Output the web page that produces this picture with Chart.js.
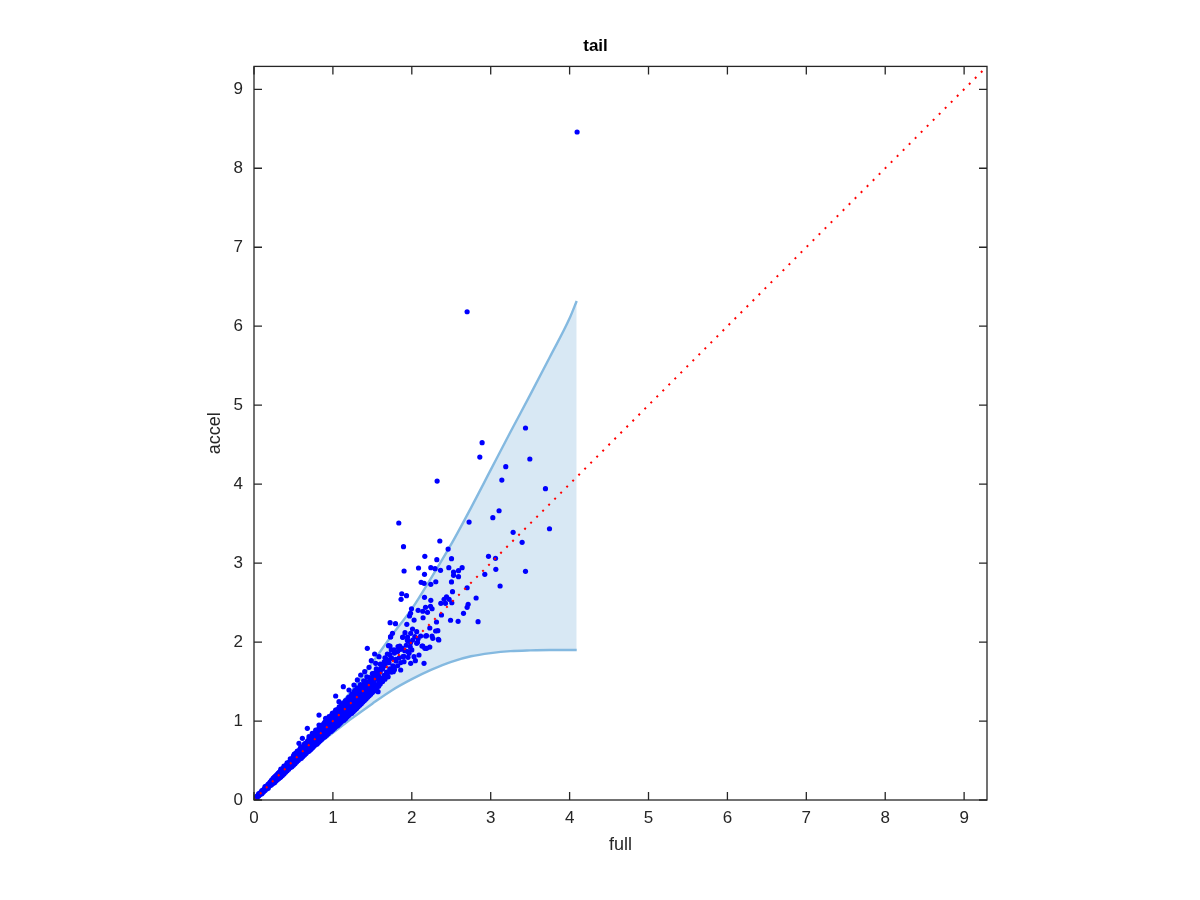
<!DOCTYPE html>
<html><head><meta charset="utf-8">
<script src="https://cdn.jsdelivr.net/npm/chart.js@4"></script>
<style>html,body{margin:0;padding:0;background:#fff}#wrap{width:1200px;height:900px}</style>
</head><body><div id="wrap"><canvas id="c" width="1200" height="900"></canvas></div>
<script>
const chartTitle = 'tail';
const xLabel = 'full';
const yLabel = 'accel';
const axisMax = 9.29;
const tickValues = [0,1,2,3,4,5,6,7,8,9];
const diagFull = [0, 9.29];
const boundFull  = [0, 0.25, 0.5, 0.75, 1.0, 1.25, 1.5, 1.75, 2.0, 2.25, 2.5, 2.75, 3.0, 3.25, 3.5, 3.75, 4.0, 4.09];
const boundUpper = [0, 0.27, 0.54, 0.82, 1.10, 1.40, 1.74, 2.09, 2.42, 2.82, 3.24, 3.70, 4.18, 4.66, 5.13, 5.61, 6.10, 6.32];
const boundLower = [0, 0.23, 0.45, 0.66, 0.85, 1.04, 1.22, 1.39, 1.53, 1.65, 1.75, 1.82, 1.86, 1.885, 1.895, 1.90, 1.90, 1.90];

const bandPoints = [
[0.02,0.02],[0.02,0.03],[0.04,0.03],[0.04,0.05],[0.06,0.05],[0.06,0.07],[0.06,0.08],[0.08,0.07],[0.08,0.09],[0.10,0.08],[0.10,0.11],[0.10,0.12],[0.12,0.10],[0.12,0.13],[0.14,0.12],[0.14,0.15],[0.14,0.17],[0.16,0.14],[0.16,0.18],[0.18,0.15],[0.18,0.17],[0.18,0.20],[0.20,0.18],[0.20,0.22],[0.22,0.19],[0.22,0.21],[0.22,0.25],[0.24,0.21],[0.24,0.24],[0.24,0.27],[0.26,0.22],[0.26,0.26],[0.26,0.29],[0.28,0.24],[0.28,0.28],[0.28,0.31],[0.30,0.26],[0.30,0.30],[0.30,0.33],[0.32,0.28],[0.32,0.31],[0.32,0.35],[0.34,0.29],[0.34,0.33],[0.34,0.37],[0.34,0.39],[0.36,0.31],[0.36,0.35],[0.36,0.39],[0.38,0.33],[0.38,0.37],[0.38,0.41],[0.38,0.43],[0.40,0.35],[0.40,0.39],[0.40,0.43],[0.42,0.37],[0.42,0.41],[0.42,0.45],[0.42,0.47],[0.44,0.39],[0.44,0.42],[0.44,0.47],[0.46,0.41],[0.46,0.44],[0.46,0.49],[0.46,0.52],[0.48,0.42],[0.48,0.46],[0.48,0.51],[0.50,0.44],[0.50,0.48],[0.50,0.53],[0.50,0.56],
[0.52,0.46],[0.52,0.50],[0.52,0.55],[0.54,0.48],[0.54,0.52],[0.54,0.57],[0.54,0.60],[0.56,0.50],[0.56,0.54],[0.56,0.59],[0.58,0.52],[0.58,0.56],[0.58,0.61],[0.58,0.64],[0.60,0.53],[0.60,0.58],[0.60,0.63],[0.60,0.67],[0.62,0.55],[0.62,0.60],[0.62,0.66],[0.64,0.57],[0.64,0.61],[0.64,0.67],[0.64,0.71],[0.66,0.59],[0.66,0.63],[0.66,0.69],[0.68,0.61],[0.68,0.65],[0.68,0.71],[0.68,0.75],[0.70,0.62],[0.70,0.67],[0.70,0.73],[0.70,0.78],[0.72,0.64],[0.72,0.69],[0.72,0.75],[0.74,0.66],[0.74,0.71],[0.74,0.77],[0.74,0.81],[0.76,0.68],[0.76,0.73],[0.76,0.80],[0.78,0.70],[0.78,0.75],[0.78,0.82],[0.78,0.86],[0.80,0.71],[0.80,0.77],[0.80,0.84],[0.82,0.73],[0.82,0.79],[0.82,0.86],[0.82,0.90],[0.84,0.75],[0.84,0.81],[0.84,0.88],[0.86,0.77],[0.86,0.83],[0.86,0.90],[0.86,0.95],[0.88,0.79],[0.88,0.85],[0.88,0.92],[0.90,0.80],[0.90,0.86],[0.90,0.94],[0.90,0.99],[0.92,0.82],[0.92,0.88],[0.92,0.96],[0.94,0.84],[0.94,0.90],[0.94,0.98],[0.94,1.03],[0.96,0.86],[0.96,0.92],[0.96,1.00],[0.98,0.87],[0.98,0.94],[0.98,1.02],[0.98,1.07],
[1.00,0.89],[1.00,0.96],[1.00,1.04],[1.00,1.10],[1.02,0.91],[1.02,0.98],[1.02,1.06],[1.04,0.93],[1.04,1.00],[1.04,1.09],[1.04,1.14],[1.06,0.94],[1.06,1.01],[1.06,1.10],[1.08,0.96],[1.08,1.03],[1.08,1.13],[1.08,1.18],[1.10,0.98],[1.10,1.05],[1.10,1.15],[1.12,1.00],[1.12,1.07],[1.12,1.17],[1.12,1.22],[1.14,1.01],[1.14,1.09],[1.14,1.19],[1.16,1.03],[1.16,1.11],[1.16,1.21],[1.16,1.26],[1.18,1.05],[1.18,1.13],[1.18,1.23],[1.20,1.07],[1.20,1.15],[1.20,1.25],[1.20,1.30],[1.22,1.09],[1.22,1.17],[1.22,1.27],[1.24,1.10],[1.24,1.19],[1.24,1.29],[1.24,1.34],[1.26,1.12],[1.26,1.21],[1.26,1.31],[1.28,1.14],[1.28,1.23],[1.28,1.34],[1.28,1.39],[1.30,1.16],[1.30,1.25],[1.30,1.36],[1.32,1.18],[1.32,1.27],[1.32,1.38],[1.34,1.20],[1.34,1.29],[1.34,1.41],[1.36,1.22],[1.36,1.31],[1.36,1.43],[1.38,1.24],[1.38,1.33],[1.38,1.45],[1.40,1.26],[1.40,1.35],[1.40,1.47],[1.42,1.28],[1.42,1.37],[1.42,1.50],[1.44,1.30],[1.44,1.39],[1.46,1.32],[1.46,1.42],[1.46,1.55],[1.48,1.34],[1.48,1.45],[1.50,1.36],[1.50,1.48],[1.50,1.60],[1.52,1.38],[1.52,1.50],[1.55,1.41],[1.55,1.53],[1.55,1.66],[1.58,1.44],[1.58,1.57],[1.60,1.47],[1.60,1.62],[1.60,1.72],[1.63,1.50],[1.63,1.66],[1.66,1.53],[1.66,1.70],[1.66,1.80],[1.70,1.56],[1.70,1.75],[1.74,1.62],[1.74,1.80],[1.74,1.90],[1.78,1.65],[1.78,1.86],[1.82,1.70],[1.82,1.88]
];

const bandPointsFill = [
[0.05,0.06],[0.09,0.10],[0.11,0.10],[0.13,0.14],[0.15,0.16],[0.17,0.16],[0.19,0.19],[0.21,0.20],[0.21,0.23],[0.23,0.23],[0.25,0.25],[0.25,0.28],[0.27,0.25],[0.27,0.30],[0.29,0.27],[0.29,0.32],[0.31,0.29],[0.31,0.34],[0.33,0.32],[0.33,0.36],[0.35,0.33],[0.35,0.38],[0.37,0.34],[0.37,0.40],[0.39,0.37],[0.39,0.42],[0.41,0.38],[0.41,0.44],[0.43,0.40],[0.43,0.46],[0.45,0.42],[0.45,0.48],[0.47,0.44],[0.47,0.50],[0.49,0.46],[0.49,0.53],[0.51,0.47],[0.51,0.54],[0.51,0.58],[0.53,0.49],[0.53,0.56],[0.55,0.51],[0.55,0.58],[0.55,0.62],[0.57,0.53],[0.57,0.60],[0.59,0.55],[0.59,0.62],[0.59,0.66],[0.61,0.57],[0.61,0.64],[0.63,0.58],[0.63,0.65],[0.63,0.69],[0.65,0.60],[0.65,0.67],[0.67,0.62],[0.67,0.69],[0.67,0.73],[0.69,0.64],[0.69,0.71],[0.71,0.65],[0.71,0.72],[0.71,0.77],[0.73,0.67],[0.73,0.74],[0.75,0.69],[0.75,0.76],[0.75,0.82],[0.77,0.71],[0.77,0.78],[0.79,0.73],[0.79,0.80],[0.79,0.85],[0.81,0.75],[0.81,0.82],[0.83,0.76],[0.83,0.84],[0.83,0.89],[0.85,0.78],[0.85,0.86],[0.87,0.80],[0.87,0.88],[0.87,0.93],[0.89,0.82],[0.89,0.90],[0.91,0.84],[0.91,0.92],[0.91,0.97],[0.93,0.86],[0.93,0.94],[0.95,0.88],[0.95,0.96],[0.95,1.01],[0.97,0.89],[0.97,0.98],[0.99,0.91],[0.99,1.00],[0.99,1.05],
[1.01,0.93],[1.01,1.02],[1.03,0.95],[1.03,1.04],[1.03,1.11],[1.05,0.97],[1.05,1.06],[1.07,0.99],[1.07,1.08],[1.07,1.15],[1.09,1.00],[1.09,1.10],[1.11,1.02],[1.11,1.12],[1.11,1.20],[1.13,1.04],[1.13,1.14],[1.15,1.06],[1.15,1.16],[1.15,1.24],[1.17,1.08],[1.17,1.18],[1.19,1.10],[1.19,1.20],[1.19,1.28],[1.21,1.12],[1.21,1.22],[1.23,1.14],[1.23,1.24],[1.23,1.32],[1.25,1.16],[1.25,1.26],[1.27,1.18],[1.27,1.28],[1.27,1.37],[1.29,1.20],[1.29,1.30],[1.31,1.22],[1.31,1.32],[1.31,1.42],[1.33,1.23],[1.33,1.34],[1.35,1.25],[1.35,1.36],[1.35,1.46],[1.37,1.27],[1.37,1.39],[1.39,1.29],[1.39,1.41],[1.39,1.51],[1.41,1.31],[1.41,1.43],[1.43,1.33],[1.43,1.45],[1.43,1.56],[1.45,1.35],[1.45,1.48],[1.47,1.37],[1.47,1.50],[1.49,1.39],[1.49,1.53],[1.51,1.41],[1.51,1.56],[1.53,1.44],[1.53,1.59],[1.56,1.46],[1.56,1.61],[1.59,1.50],[1.59,1.65],[1.62,1.53],[1.62,1.69],[1.65,1.58],[1.65,1.75],[1.68,1.62],[1.68,1.78],[1.72,1.66],[1.72,1.84],[1.76,1.70],[1.80,1.76],[1.84,1.80],[1.86,1.74],[1.88,1.92],[1.90,1.82],[1.93,1.96],[1.95,1.88],[1.98,1.94],[2.00,1.90]
];

const midPoints = [
[1.914,2.119],[1.986,2.111],[2.062,2.132],[2.112,2.077],[2.176,2.077],[2.256,2.077],[2.302,2.140],[2.336,2.035],[1.884,2.060],[1.943,2.026],[2.011,2.026],[2.062,1.984],[2.129,1.950],[2.188,1.921],[1.825,1.942],[1.859,1.908],[1.910,1.891],[1.965,1.857],[2.028,1.815],[2.091,1.836],[2.155,1.731],[1.901,1.752],[1.986,1.731],[2.045,1.764],[1.952,1.807],[1.888,1.815],[1.732,2.068],[1.724,1.950],[1.774,1.900],[1.690,1.849],[1.741,1.794],[1.796,1.781],[1.711,1.739],[1.660,1.731],[1.627,1.688],[1.597,1.646],[1.563,1.625],[1.521,1.604],[1.774,1.680],[1.859,1.646],[1.766,1.625],[1.690,1.596],[1.605,1.541],[1.542,1.541],[1.479,1.520],[1.436,1.477],[1.394,1.435],[1.458,1.414],[1.521,1.456],[1.572,1.372],[1.352,1.372],[1.436,1.921],[1.529,1.849],[1.584,1.815],[1.487,1.764],[1.542,1.731],[1.458,1.680],[1.403,1.625],[1.352,1.583],[1.310,1.520],[1.267,1.456],[1.331,1.414],[1.132,1.435],[1.204,1.393],[1.246,1.330],[1.289,1.309],[1.373,1.309],[1.310,1.245],[1.225,1.245],[1.162,1.203],[1.098,1.161],[1.035,1.140],[1.035,1.317],[1.077,1.245],[1.141,1.119],[1.056,1.076],[0.993,1.098],[0.951,1.055],[0.908,1.034],[0.972,0.971],[0.887,0.971],[0.824,0.950],[0.824,1.076],[0.845,0.908],[0.782,0.886],[0.739,0.844],[0.697,0.802],[0.676,0.908],[0.760,0.802],[0.718,0.739],[0.655,0.718],[0.634,0.675],[0.591,0.654],[0.549,0.612],[0.613,0.781],[0.570,0.718],[0.528,0.591],[0.507,0.549],[0.465,0.507],[0.422,0.464],[0.486,0.485],[0.444,0.422],[0.401,0.401],[0.380,0.380],[0.359,0.338],[0.338,0.295],[0.317,0.274]
];

const spreadPoints = [
[3.441,4.711],[2.891,4.525],[2.862,4.343],[3.496,4.318],[3.191,4.221],[2.321,4.039],[3.141,4.052],[3.694,3.942],[3.106,3.663],[3.027,3.575],[2.726,3.520],[1.835,3.508],[3.745,3.435],[3.284,3.390],[3.398,3.263],[2.355,3.280],[1.895,3.208],[2.460,3.178],[2.165,3.086],[2.503,3.056],[2.317,3.043],[2.972,3.086],[3.061,3.061],[2.085,2.938],[2.241,2.942],[2.295,2.929],[2.364,2.909],[2.469,2.942],[2.529,2.887],[2.592,2.904],[2.638,2.942],[1.902,2.900],[2.161,2.858],[2.529,2.845],[2.592,2.828],[3.065,2.921],[2.925,2.858],[3.441,2.896],[2.118,2.757],[2.156,2.744],[2.241,2.731],[2.304,2.764],[2.503,2.761],[3.119,2.710],[2.701,2.688],[2.516,2.638],[1.873,2.612],[1.933,2.587],[1.864,2.541],[2.161,2.567],[2.241,2.529],[2.815,2.558],[2.440,2.574],[2.409,2.541],[2.473,2.541],[2.507,2.498],[2.368,2.491],[2.714,2.478],[2.701,2.440],[2.427,2.491],[2.174,2.440],[2.237,2.453],[2.080,2.402],[1.984,2.364],[2.139,2.390],[2.199,2.377],[2.257,2.422],[2.376,2.343],[2.655,2.364],[1.971,2.330],[2.143,2.308],[2.029,2.279],[2.313,2.254],[2.491,2.276],[2.587,2.263],[2.840,2.258],[1.725,2.245],[1.793,2.233],[1.937,2.225],[2.009,2.165],[2.228,2.178],[2.330,2.144],[1.755,2.111],[1.730,2.064],[1.886,2.064],[1.946,2.064],[2.038,2.068],[2.080,2.043],[2.186,2.081],[2.266,2.048],[2.342,2.026],[1.949,2.017],[1.984,1.992],[2.072,1.997],[1.848,1.950],[1.705,1.954],[1.835,1.925],[2.139,1.950],[2.165,1.921],[2.228,1.937],[1.996,2.422]
];

const outlierPoints = [[4.095,8.459],[2.701,6.183]];

const toXY = arr => arr.map(p => ({x: p[0], y: p[1]}));
const scatterData = toXY(bandPoints.concat(bandPointsFill, midPoints, spreadPoints, outlierPoints));
const upperData = boundFull.map((v,i) => ({x: v, y: boundUpper[i]}));
const lowerData = boundFull.map((v,i) => ({x: v, y: boundLower[i]}));
const diagData = diagFull.map(v => ({x: v, y: v}));

const textColor = '#262626';
const fontFam = '"Liberation Sans", Arial, Helvetica, sans-serif';

const boxPlugin = {
  id: 'box',
  afterDatasetsDraw(chart) {
    const {ctx, chartArea: a, scales: {x, y}} = chart;
    ctx.save();
    ctx.strokeStyle = textColor;
    ctx.lineWidth = 1.3;
    ctx.strokeRect(a.left, a.top, a.right - a.left, a.bottom - a.top);
    ctx.beginPath();
    tickValues.forEach(v => {
      const px = x.getPixelForValue(v);
      ctx.moveTo(px, a.bottom); ctx.lineTo(px, a.bottom - 8);
      ctx.moveTo(px, a.top); ctx.lineTo(px, a.top + 8);
      const py = y.getPixelForValue(v);
      ctx.moveTo(a.left, py); ctx.lineTo(a.left + 8, py);
      ctx.moveTo(a.right, py); ctx.lineTo(a.right - 8, py);
    });
    ctx.stroke();
    ctx.restore();
  }
};

new Chart(document.getElementById('c'), {
  type: 'scatter',
  data: {
    datasets: [
      {type: 'line', data: upperData, borderColor: 'rgb(132,185,224)', borderWidth: 2.4, pointRadius: 0,
       backgroundColor: 'rgb(216,232,244)', fill: '+1', order: 3, cubicInterpolationMode: 'monotone'},
      {type: 'line', data: lowerData, borderColor: 'rgb(132,185,224)', borderWidth: 2.4, pointRadius: 0,
       fill: false, order: 2.5, cubicInterpolationMode: 'monotone'},
      {type: 'scatter', data: scatterData, backgroundColor: 'rgb(0,0,255)', borderWidth: 0, pointRadius: 2.6, order: 2},
      {type: 'line', data: diagData, borderColor: 'rgb(255,0,0)', borderWidth: 2, borderDash: [2, 6.5],
       pointRadius: 0, fill: false, order: 1}
    ]
  },
  options: {
    responsive: false,
    devicePixelRatio: 1,
    animation: false,
    layout: {padding: {left: 204, right: 213, top: 0, bottom: 44}},
    plugins: {
      legend: {display: false},
      tooltip: {enabled: false},
      title: {display: true, text: chartTitle, color: '#000',
        font: {family: fontFam, size: 17, weight: 'bold'}, padding: {top: 36, bottom: 10}}
    },
    scales: {
      x: {type: 'linear', min: 0, max: axisMax,
        afterBuildTicks: s => { s.ticks = tickValues.map(v => ({value: v})); },
        afterFit: s => { s.height = 56; },
        grid: {display: false, drawTicks: false, tickLength: 0},
        border: {display: false},
        ticks: {color: textColor, padding: 8, font: {family: fontFam, size: 17}, maxRotation: 0, autoSkip: false},
        title: {display: true, text: xLabel, color: textColor, font: {family: fontFam, size: 18}, padding: 0}
      },
      y: {type: 'linear', min: 0, max: axisMax,
        afterBuildTicks: s => { s.ticks = tickValues.map(v => ({value: v})); },
        afterFit: s => { s.width = 50; },
        grid: {display: false, drawTicks: false, tickLength: 0},
        border: {display: false},
        ticks: {color: textColor, padding: 11, font: {family: fontFam, size: 17}, autoSkip: false},
        title: {display: true, text: yLabel, color: textColor, font: {family: fontFam, size: 18}, padding: 0}
      }
    }
  },
  plugins: [boxPlugin]
});
</script>
</body></html>
